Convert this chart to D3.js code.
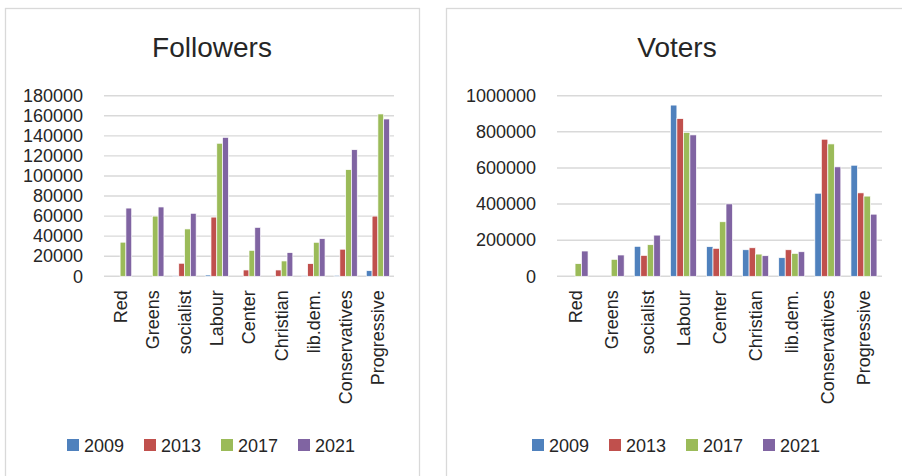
<!DOCTYPE html>
<html>
<head>
<meta charset="utf-8">
<script src="https://cdn.jsdelivr.net/npm/d3@7"></script>
<style>
  body { margin: 0; background: #fff; }
  svg text { font-family: "Liberation Sans", Arial, sans-serif; fill: #262626; }
</style>
</head>
<body>
<svg id="chart" width="902" height="476"></svg>
<script>
var parties = ["Red", "Greens", "socialist", "Labour", "Center", "Christian", "lib.dem.", "Conservatives", "Progressive"];
var years = ["2009", "2013", "2017", "2021"];
var colors = ["#4F81BD", "#C0504D", "#9BBB59", "#8064A2"];

// followers per party, one array per year (same order as parties)
var followers2009 = [0, 0, 600, 1300, 0, 0, 600, 1000, 5600];
var followers2013 = [0, 0, 13000, 59000, 6300, 6300, 12600, 27000, 60000];
var followers2017 = [34000, 60000, 47200, 132600, 25900, 15300, 33900, 106300, 161800];
var followers2021 = [68000, 69100, 62800, 138500, 48800, 23600, 37500, 126200, 156800];
var followerTicks = [0, 20000, 40000, 60000, 80000, 100000, 120000, 140000, 160000, 180000];

// voters per party
var voters2009 = [0, 0, 166000, 948000, 164000, 147000, 103000, 460000, 615000];
var voters2013 = [0, 0, 116000, 873000, 155000, 158000, 147000, 759000, 462000];
var voters2017 = [70000, 94000, 175000, 797000, 302000, 123000, 127000, 733000, 444000];
var voters2021 = [140000, 118000, 228000, 783000, 401000, 114000, 136000, 606000, 344000];
var voterTicks = [0, 200000, 400000, 600000, 800000, 1000000];

var svg = d3.select("#chart");

// panel frames
svg.append("rect").attr("x", 5.5).attr("y", 8.5).attr("width", 414).attr("height", 480)
  .attr("fill", "none").attr("stroke", "#D9D9D9").attr("stroke-width", 1.3);
svg.append("rect").attr("x", 446.5).attr("y", 8.5).attr("width", 470).attr("height", 480)
  .attr("fill", "none").attr("stroke", "#D9D9D9").attr("stroke-width", 1.3);

function drawChart(opt) {
  var series = opt.series;
  var rows = parties.map(function(p, i) {
    return { party: p, vals: years.map(function(y, j) { return { year: y, j: j, v: series[j][i] }; }) };
  });

  var x0 = d3.scaleBand().domain(parties).range([opt.left, opt.right]).paddingInner(0.28).paddingOuter(0.14);
  var x1 = d3.scaleBand().domain(years).range([0, x0.bandwidth()]);
  var y = d3.scaleLinear().domain([0, opt.max]).range([opt.bottom, opt.top]);

  var g = svg.append("g");

  // title
  g.append("text")
    .attr("x", opt.titleX).attr("y", 57)
    .attr("text-anchor", "middle")
    .style("font-size", "28px")
    .text(opt.title);

  // gridlines
  g.selectAll(".grid").data(opt.ticks).enter().append("line")
    .attr("x1", opt.left).attr("x2", opt.right)
    .attr("y1", function(d) { return y(d); }).attr("y2", function(d) { return y(d); })
    .attr("stroke", "#D9D9D9").attr("stroke-width", 1.4);

  // y axis labels
  var ya = g.append("g")
    .attr("transform", "translate(" + opt.left + ",0)")
    .call(d3.axisLeft(y).tickValues(opt.ticks).tickSize(0).tickPadding(21).tickFormat(d3.format("d")));
  ya.select(".domain").remove();
  ya.selectAll("text").style("font-size", "18px").attr("fill", "#262626")
    .style("font-family", "Liberation Sans, Arial, sans-serif");

  // bars
  g.selectAll(".grp").data(rows).enter().append("g")
    .attr("transform", function(d) { return "translate(" + x0(d.party) + ",0)"; })
    .selectAll("rect").data(function(d) { return d.vals; }).enter().append("rect")
    .attr("x", function(d) { return x1(d.year); })
    .attr("width", x1.bandwidth())
    .attr("y", function(d) { return y(d.v); })
    .attr("height", function(d) { return y(0) - y(d.v); })
    .attr("fill", function(d) { return colors[d.j]; })
    .attr("stroke", "#fff").attr("stroke-width", 0.7);

  // x axis
  var xa = g.append("g")
    .attr("transform", "translate(0," + opt.bottom + ")")
    .call(d3.axisBottom(x0).tickSize(0).tickPadding(0));
  xa.select(".domain").remove();
  xa.selectAll("text")
    .style("font-size", "18px").attr("fill", "#262626")
    .style("font-family", "Liberation Sans, Arial, sans-serif")
    .attr("text-anchor", "end")
    .attr("transform", "rotate(-90)")
    .attr("x", -14).attr("y", 0).attr("dy", "0.36em");

  // legend
  var step = 77;
  var lx = opt.titleX - (step * 3 + 59) / 2;
  var lg = g.selectAll(".leg").data(years).enter().append("g")
    .attr("transform", function(d, i) { return "translate(" + (lx + i * step) + ",439)"; });
  lg.append("rect").attr("width", 12).attr("height", 12)
    .attr("fill", function(d, i) { return colors[i]; });
  lg.append("text").attr("x", 17).attr("y", 13)
    .style("font-size", "18px").text(function(d) { return d; });
}

drawChart({
  title: "Followers", titleX: 212,
  series: [followers2009, followers2013, followers2017, followers2021],
  ticks: followerTicks, max: 180000,
  left: 104, right: 394, top: 95.7, bottom: 276.3
});

drawChart({
  title: "Voters", titleX: 677,
  series: [voters2009, voters2013, voters2017, voters2021],
  ticks: voterTicks, max: 1000000,
  left: 557, right: 882, top: 95.7, bottom: 276.3
});
</script>
</body>
</html>
